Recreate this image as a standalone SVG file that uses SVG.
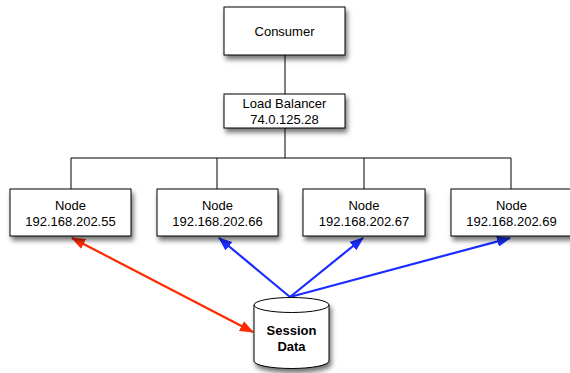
<svg xmlns="http://www.w3.org/2000/svg" width="570" height="373" viewBox="0 0 570 373">
  <style>
    .box { fill: #ffffff; stroke: #000000; stroke-width: 1; }
    .wire { fill: none; stroke: #000000; stroke-width: 1; }
    .lbl { font-family: "Liberation Sans", Arial, sans-serif; font-size: 13px; fill: #000000; text-anchor: middle; }
    .bold { font-weight: bold; }
    .red { stroke: #ff2a00; stroke-width: 2.2; fill: none; }
    .blue { stroke: #1a2cff; stroke-width: 2.2; fill: none; }
  </style>
  <defs>
    <filter id="shadow" x="-20%" y="-20%" width="150%" height="160%">
      <feDropShadow dx="2" dy="4" stdDeviation="2.5" flood-color="#000000" flood-opacity="0.55"/>
    </filter>
    <marker id="redHead" viewBox="0 0 14 11" refX="13" refY="5.5" markerWidth="14" markerHeight="11" markerUnits="userSpaceOnUse" orient="auto-start-reverse">
      <path d="M0,0 L14,5.5 L0,11 z" fill="#ff2a00"/>
    </marker>
    <marker id="blueHead" viewBox="0 0 14 11" refX="13" refY="5.5" markerWidth="14" markerHeight="11" markerUnits="userSpaceOnUse" orient="auto-start-reverse">
      <path d="M0,0 L14,5.5 L0,11 z" fill="#1a2cff"/>
    </marker>
  </defs>

  <!-- tree wiring -->
  <g id="connectors">
    <path class="wire" d="M285,55 V94"/>
    <path class="wire" d="M285,128 V158"/>
    <path class="wire" d="M71,189 V158 H511 V189"/>
    <path class="wire" d="M217,158 V189"/>
    <path class="wire" d="M364,158 V189"/>
    <!-- session data links -->
    <line class="red" x1="72" y1="238" x2="253" y2="332" marker-start="url(#redHead)" marker-end="url(#redHead)"/>
    <line class="blue" x1="290" y1="297" x2="219" y2="238" marker-end="url(#blueHead)"/>
    <line class="blue" x1="290" y1="297" x2="363" y2="238" marker-end="url(#blueHead)"/>
    <line class="blue" x1="290" y1="297" x2="510" y2="238" marker-end="url(#blueHead)"/>
  </g>

  <g id="consumer">
    <rect class="box" x="224" y="7" width="121" height="48" filter="url(#shadow)"/>
    <text class="lbl" x="284.5" y="36">Consumer</text>
  </g>

  <g id="load-balancer">
    <rect class="box" x="224" y="94" width="121" height="34" filter="url(#shadow)"/>
    <text class="lbl" x="284.5" y="108">Load Balancer</text>
    <text class="lbl" x="284.5" y="124">74.0.125.28</text>
  </g>

  <g id="node-55">
    <rect class="box" x="10" y="189" width="121" height="47" filter="url(#shadow)"/>
    <text class="lbl" x="70.5" y="210">Node</text>
    <text class="lbl" x="70.5" y="226">192.168.202.55</text>
  </g>

  <g id="node-66">
    <rect class="box" x="157" y="189" width="121" height="47" filter="url(#shadow)"/>
    <text class="lbl" x="217.5" y="210">Node</text>
    <text class="lbl" x="217.5" y="226">192.168.202.66</text>
  </g>

  <g id="node-67">
    <rect class="box" x="303" y="189" width="122" height="47" filter="url(#shadow)"/>
    <text class="lbl" x="364" y="210">Node</text>
    <text class="lbl" x="364" y="226">192.168.202.67</text>
  </g>

  <g id="node-69">
    <rect class="box" x="451" y="189" width="121" height="47" filter="url(#shadow)"/>
    <text class="lbl" x="511.5" y="210">Node</text>
    <text class="lbl" x="511.5" y="226">192.168.202.69</text>
  </g>

  <g id="session-data">
    <path class="box" stroke-width="1.5" filter="url(#shadow)" d="M254,305 A37.5,7.5 0 0 1 329,305 V361 A37.5,7.5 0 0 1 254,361 Z"/>
    <path class="wire" stroke-width="1.5" d="M254,305 A37.5,7.5 0 0 0 329,305"/>
    <text class="lbl bold" x="291.5" y="335">Session</text>
    <text class="lbl bold" x="291.5" y="351">Data</text>
  </g>
</svg>
